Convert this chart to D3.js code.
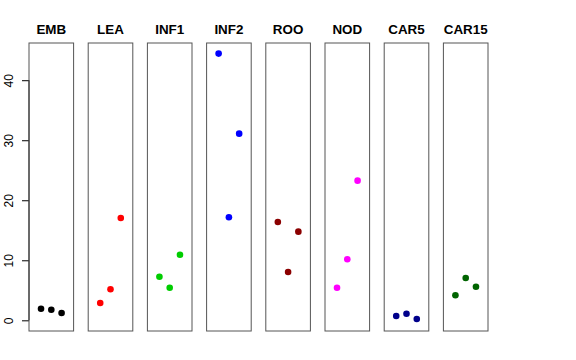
<!DOCTYPE html>
<html>
<head>
<meta charset="utf-8">
<script src="https://cdn.jsdelivr.net/npm/d3@7"></script>
<style>
  body { margin: 0; background: #fff; }
  svg { display: block; }
</style>
</head>
<body>
<svg id="chart" width="576" height="360"></svg>
<script>
// Panel names, colours and the three values per panel
const groups = ["EMB", "LEA", "INF1", "INF2", "ROO", "NOD", "CAR5", "CAR15"];
const colors = ["#000000", "#FF0000", "#00CD00", "#0000FF", "#8B0000", "#FF00FF", "#00008B", "#006400"];
const values = [
    [1.93, 1.77, 1.22],
    [2.88, 5.17, 17.05],
    [7.27, 5.43, 10.93],
    [44.43, 17.17, 31.1],
    [16.38, 8.05, 14.77],
    [5.43, 10.17, 23.27],
    [0.72, 1.1, 0.22],
    [4.17, 7.05, 5.6]
];
const yTicks = [0, 10, 20, 30, 40];

const margin = { top: 43, bottom: 29, left: 29 },
    panelWidth = 44.6,
    panelStep = 59.2,
    height = 360 - margin.top - margin.bottom;

const svg = d3.select("#chart");

// Shared y scale (data range padded by 4% like base graphics)
const y = d3.scaleLinear()
    .domain([-1.78, 46.2])
    .range([margin.top + height, margin.top]);

// Within-panel x scale: points at index 1,2,3
const x = d3.scaleLinear()
    .domain([-0.17, 4.17])
    .range([0, panelWidth]);

// Left axis
const yAxis = svg.append("g")
    .attr("transform", `translate(${margin.left},0)`)
    .call(d3.axisLeft(y).tickValues(yTicks).tickSize(7).tickPadding(0));
yAxis.select(".domain").attr("d", `M0,${y(0)}V${y(40)}`).attr("stroke", "#000");
yAxis.selectAll(".tick line").attr("stroke", "#000");
yAxis.selectAll(".tick text")
    .attr("font-family", "Liberation Sans, Arial, sans-serif")
    .attr("font-size", 12)
    .attr("fill", "#000")
    .attr("text-anchor", "middle")
    .attr("x", 0)
    .attr("dy", 0)
    .attr("transform", "translate(-16,0) rotate(-90)");

groups.forEach((g, i) => {
    const left = margin.left + i * panelStep;
    const panel = svg.append("g").attr("transform", `translate(${left},0)`);

    panel.append("rect")
        .attr("x", 0)
        .attr("y", margin.top)
        .attr("width", panelWidth)
        .attr("height", height)
        .attr("fill", "none")
        .attr("stroke", "#555")
        .attr("stroke-width", 1);

    panel.append("text")
        .attr("x", panelWidth / 2)
        .attr("y", 34)
        .attr("text-anchor", "middle")
        .attr("font-family", "Liberation Sans, Arial, sans-serif")
        .attr("font-weight", "bold")
        .attr("font-size", 13.4)
        .text(g);

    panel.selectAll("circle")
        .data(values[i])
        .enter().append("circle")
        .attr("cx", (d, j) => x(j + 1))
        .attr("cy", d => y(d))
        .attr("r", 3.3)
        .attr("fill", colors[i]);
});
</script>
</body>
</html>
